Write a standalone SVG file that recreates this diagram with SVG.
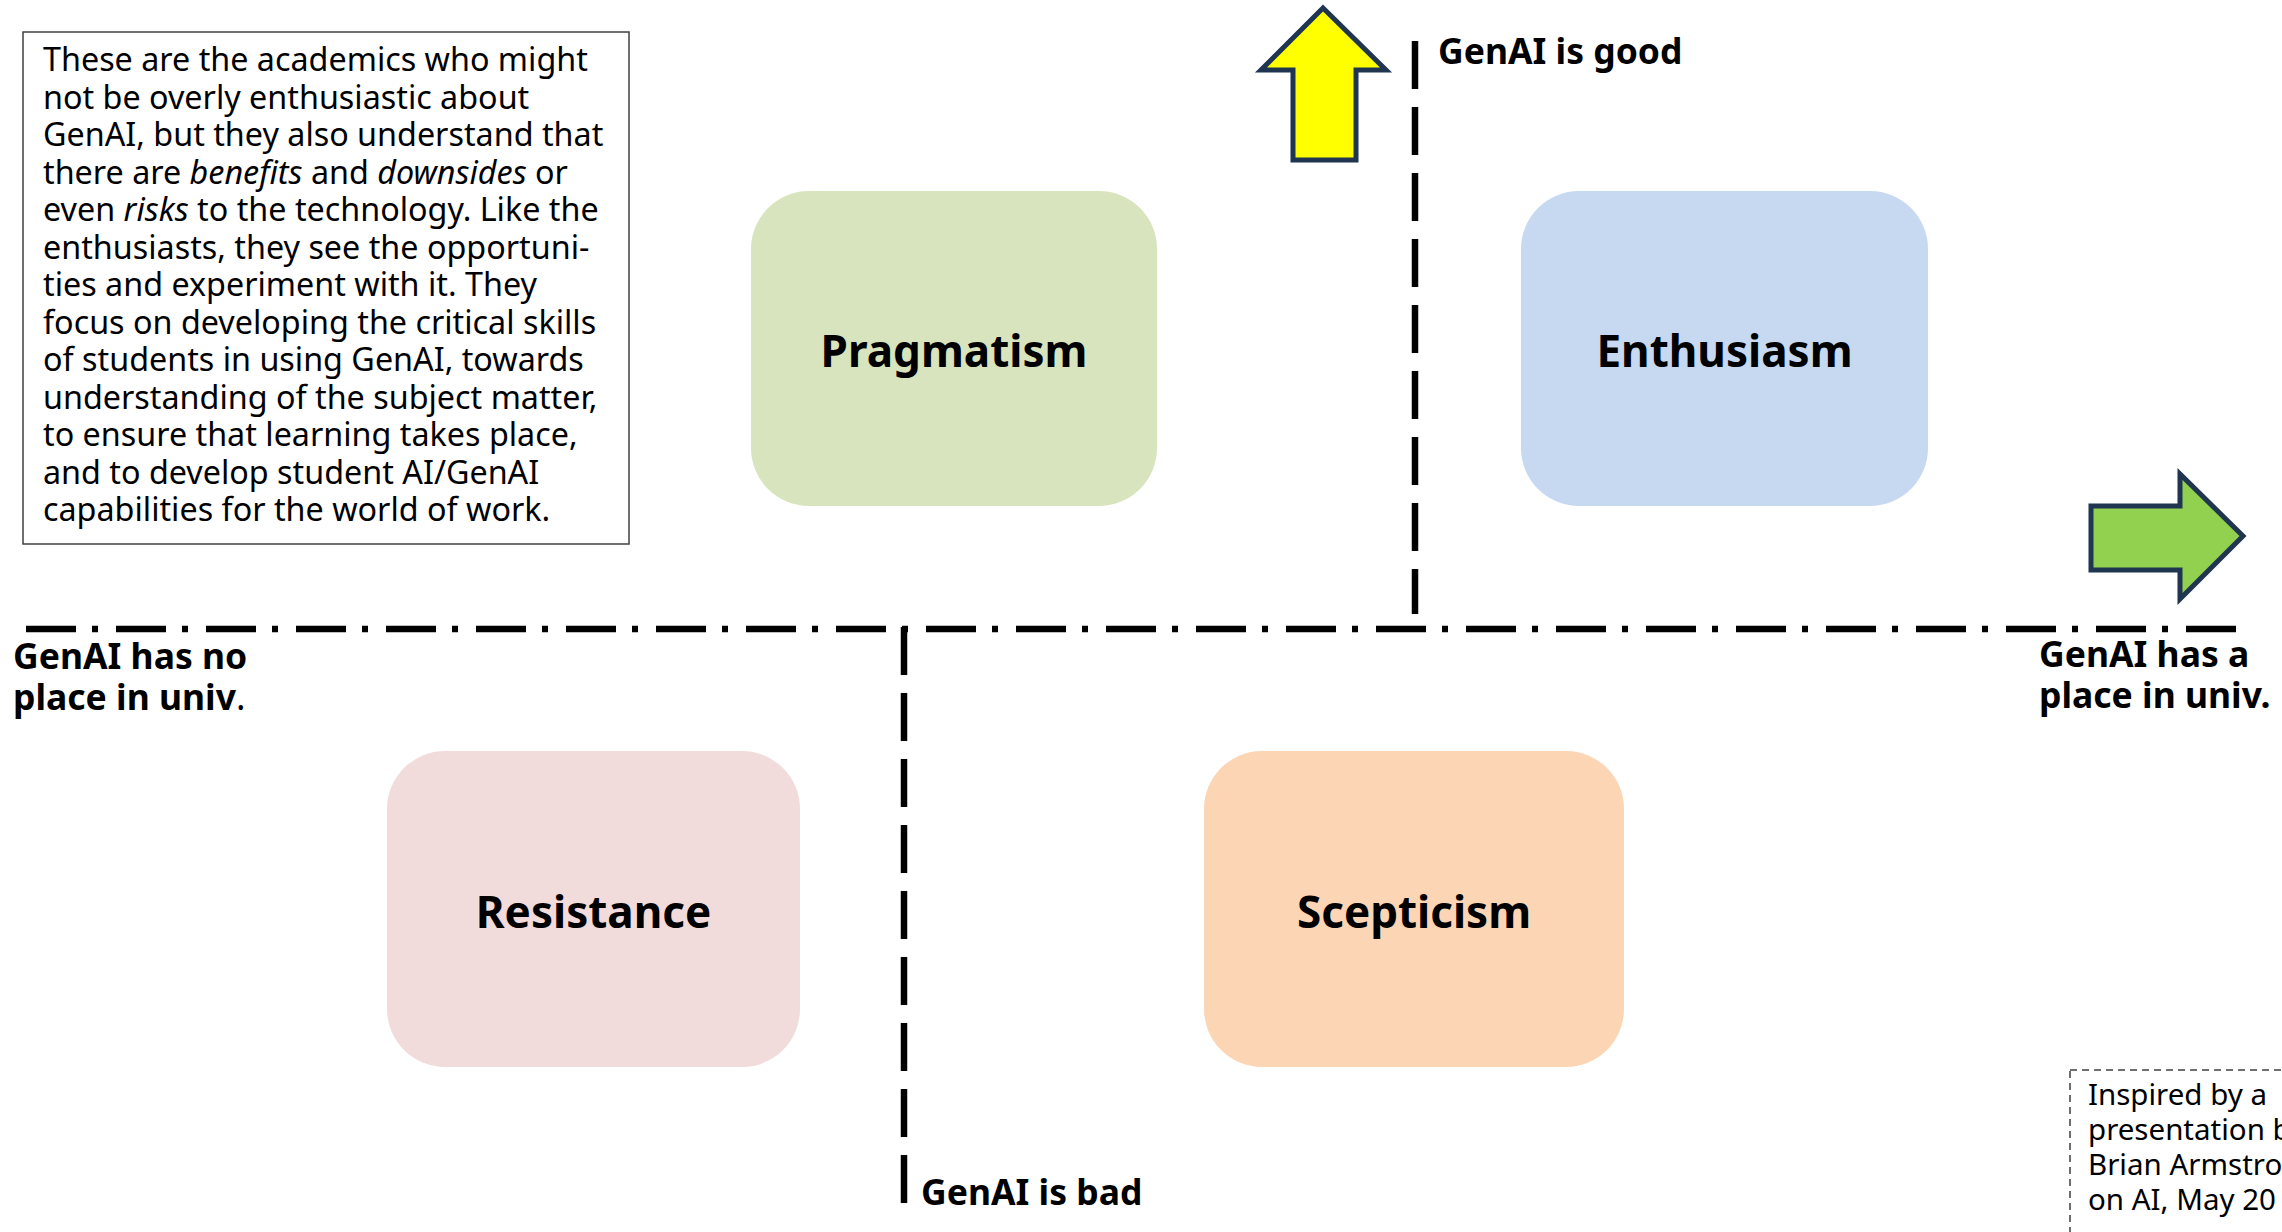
<svg xmlns="http://www.w3.org/2000/svg" width="2282" height="1232" viewBox="0 0 2282 1232">
<style>
.body{font-family:"Noto Sans","Open Sans",sans-serif;font-size:32.3px;fill:#000}
.lbl{font-family:"Noto Sans","Open Sans",sans-serif;font-size:44px;font-weight:bold;fill:#000;text-anchor:middle}
.axis{font-family:"Noto Sans","Open Sans",sans-serif;font-size:35.5px;font-weight:bold;fill:#000}
.note{font-family:"Noto Sans","Open Sans",sans-serif;font-size:29.5px;fill:#000}
.arrow{stroke:#1F3550;stroke-width:5;stroke-linejoin:miter}
.dashdot{fill:none;stroke:#000;stroke-width:6.5;stroke-dasharray:50 16 6 18}
.dash{fill:none;stroke:#000;stroke-width:6.5;stroke-dasharray:48 18}
</style>
<rect width="2282" height="1232" fill="#fff"/>

<g id="connectors">
<line class="dashdot" x1="26" y1="629" x2="2240" y2="629"/>
<line class="dash" x1="1415" y1="41" x2="1415" y2="614"/>
<line class="dash" x1="904" y1="627" x2="904" y2="1205"/>
</g>

<g id="description">
<rect x="23" y="32" width="606" height="512" fill="#fff" stroke="#404040" stroke-width="1.5"/>
<text class="body" x="43" y="71">
<tspan x="43" y="71">These are the academics who might</tspan>
<tspan x="43" dy="37.5">not be overly enthusiastic about</tspan>
<tspan x="43" dy="37.5">GenAI, but they also understand that</tspan>
<tspan x="43" dy="37.5">there are <tspan font-style="italic">benefits</tspan> and <tspan font-style="italic">downsides</tspan> or</tspan>
<tspan x="43" dy="37.5">even <tspan font-style="italic">risks</tspan> to the technology. Like the</tspan>
<tspan x="43" dy="37.5">enthusiasts, they see the opportuni-</tspan>
<tspan x="43" dy="37.5">ties and experiment with it. They</tspan>
<tspan x="43" dy="37.5">focus on developing the critical skills</tspan>
<tspan x="43" dy="37.5">of students in using GenAI, towards</tspan>
<tspan x="43" dy="37.5">understanding of the subject matter,</tspan>
<tspan x="43" dy="37.5">to ensure that learning takes place,</tspan>
<tspan x="43" dy="37.5">and to develop student AI/GenAI</tspan>
<tspan x="43" dy="37.5">capabilities for the world of work.</tspan>
</text>
</g>

<g id="pragmatism">
<rect x="751" y="191" width="406" height="315" rx="58" fill="#D8E4BD"/>
<text class="lbl" x="954" y="367">Pragmatism</text>
</g>
<g id="enthusiasm">
<rect x="1521" y="191" width="407" height="315" rx="58" fill="#C6D9F1"/>
<text class="lbl" x="1724.5" y="367">Enthusiasm</text>
</g>
<g id="resistance">
<rect x="387" y="751" width="413" height="316" rx="58" fill="#F2DCDB"/>
<text class="lbl" x="593.5" y="928">Resistance</text>
</g>
<g id="scepticism">
<rect x="1204" y="751" width="420" height="316" rx="58" fill="#FCD5B5"/>
<text class="lbl" x="1414" y="928">Scepticism</text>
</g>

<g id="arrow-up">
<polygon class="arrow" fill="#FFFF00" points="1323,8 1386,70 1356,70 1356,160 1293,160 1293,70 1261,70"/>
</g>
<g id="arrow-right">
<polygon class="arrow" fill="#92D050" points="2091,506 2180,506 2180,474 2243,536 2180,599 2180,570 2091,570"/>
</g>

<g id="axis-labels">
<text class="axis" x="1438" y="64">GenAI is good</text>
<text class="axis" x="921" y="1205">GenAI is bad</text>
<text class="axis"><tspan x="13" y="669">GenAI has no</tspan><tspan x="13" dy="41">place in univ<tspan font-weight="normal">.</tspan></tspan></text>
<text class="axis"><tspan x="2039" y="667">GenAI has a</tspan><tspan x="2039" dy="41">place in univ.</tspan></text>
</g>

<g id="credit">
<rect x="2070" y="1070" width="260" height="200" fill="none" stroke="#404040" stroke-width="1.5" stroke-dasharray="7 5"/>
<text class="note"><tspan x="2088" y="1105">Inspired by a</tspan><tspan x="2088" dy="35">presentation b</tspan><tspan x="2088" dy="35">Brian Armstro</tspan><tspan x="2088" dy="35">on AI, May 20</tspan></text>
</g>
</svg>
